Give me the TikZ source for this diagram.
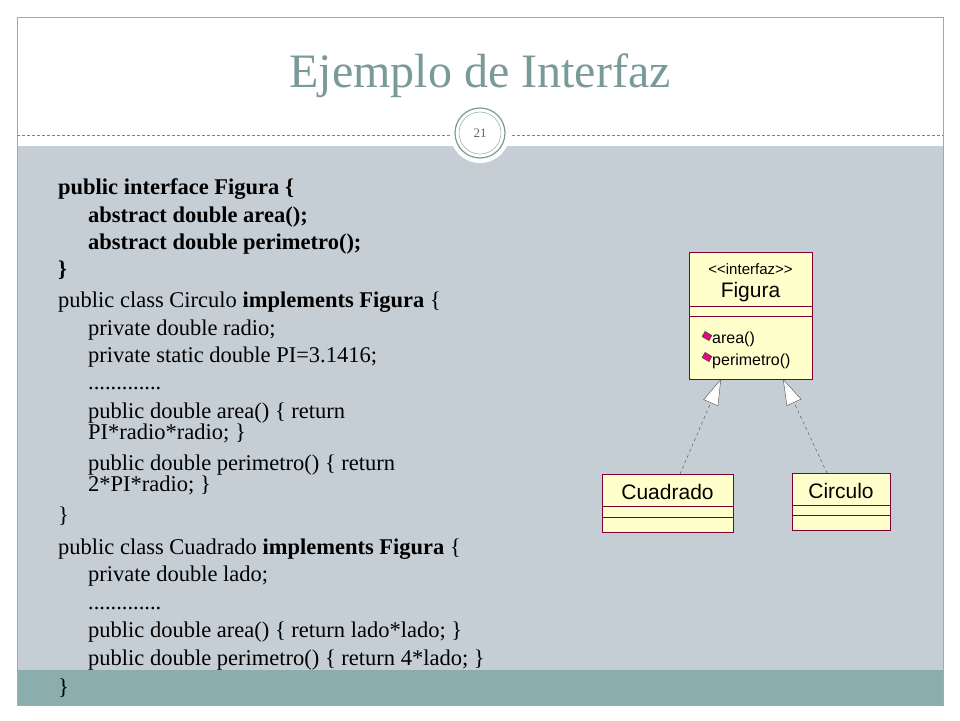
\documentclass[tikz,border=0pt]{standalone}
\usepackage{fontspec}
\setmainfont{Liberation Serif}
\setsansfont{Liberation Sans}
\usetikzlibrary{arrows.meta}
\definecolor{titlecol}{HTML}{7A9A9A}
\definecolor{bodybg}{HTML}{C5CED5}
\definecolor{footbg}{HTML}{8BADAD}
\definecolor{umlfill}{HTML}{FFFFCC}
\definecolor{umlline}{HTML}{800030}
\begin{document}
\begin{tikzpicture}[x=1pt,y=-1pt,
    code/.style={anchor=base west,inner sep=0pt,font=\fontsize{22.5}{24}\selectfont},
    codebf/.style={code,font=\fontsize{22.5}{24}\selectfont\bfseries},
    umlbox/.style={draw=umlline,fill=umlfill},
    realize/.style={draw=black!70,dashed,-{Triangle[open,fill=white,length=26pt,width=16pt]}}]
  \useasboundingbox (0,0) rectangle (960,720);
  % marco
  \fill[white] (0,0) rectangle (960,720);
  \fill[bodybg] (17,146) rectangle (943,670);
  \fill[footbg] (17,670) rectangle (943,705);
  \draw[titlecol!80] (17,17) rectangle (943,705);
  \draw[gray,densely dashed] (17,135) -- (943,135);
  \fill[white] (480,133) circle (30);
  \draw[titlecol,line width=1.2pt] (480,133) circle (25);
  \draw[titlecol] (480,133) circle (21);
  \node (num) at (480,133) {\fontsize{13}{14}\selectfont\color{gray!80!black}21};
  \node (title) at (480,76) {\fontsize{48}{52}\selectfont\color{titlecol}Ejemplo de Interfaz};
  % codigo
  \node[codebf] (l1) at (58,194) {public interface Figura \{};
  \node[codebf] (l2) at (88,222) {abstract double area();};
  \node[codebf] (l3) at (88,249) {abstract double perimetro();};
  \node[codebf] (l4) at (58,276) {\}};
  \node[code] (l5) at (58,307) {public class Circulo \textbf{implements Figura} \{};
  \node[code] (l6) at (88,335) {private double radio;};
  \node[code] (l7) at (88,362) {private static double PI=3.1416;};
  \node[code] (l8) at (88,389) {.............};
  \node[code] (l9) at (88,418) {public double area() \{ return};
  \node[code] (l10) at (88,439) {PI*radio*radio; \}};
  \node[code] (l11) at (88,470) {public double perimetro() \{ return};
  \node[code] (l12) at (88,491) {2*PI*radio; \}};
  \node[code] (l13) at (58,522) {\}};
  \node[code] (l14) at (58,554) {public class Cuadrado \textbf{implements Figura} \{};
  \node[code] (l15) at (88,581) {private double lado;};
  \node[code] (l16) at (88,609) {.............};
  \node[code] (l17) at (88,637) {public double area() \{ return lado*lado; \}};
  \node[code] (l18) at (88,665) {public double perimetro() \{ return 4*lado; \}};
  \node[code] (l19) at (58,694) {\}};
  % UML
  \draw[umlbox] (689,252) rectangle (812,379);
  \draw[umlline] (689,306) -- (812,306) (689,316) -- (812,316);
  \node (stereo) at (750.5,269) {\sffamily\fontsize{15}{16}\selectfont <\kern0pt<interfaz>\kern0pt>};
  \node (figura) at (750.5,292) {\sffamily\fontsize{21}{23}\selectfont Figura};
  \node[anchor=west,inner sep=0pt] (area) at (712,339) {\sffamily\fontsize{16}{18}\selectfont area()};
  \node[anchor=west,inner sep=0pt] (perim) at (712,361) {\sffamily\fontsize{16}{18}\selectfont perimetro()};
  \foreach \yy in {336,357}
    \fill[magenta,draw=green!40!black,rotate around={-30:(707,\yy)}] (703,\yy-3) rectangle (711,\yy+3);
  \coordinate (figL) at (721,379);
  \coordinate (figR) at (783,379);
  \draw[umlbox] (602,474) rectangle (733,532);
  \draw[umlline] (602,506) -- (733,506) (602,517) -- (733,517);
  \node (cuadrado) at (667.5,492) {\sffamily\fontsize{21}{23}\selectfont Cuadrado};
  \draw[umlbox] (792,473) rectangle (890,530);
  \draw[umlline] (792,505) -- (890,505) (792,515) -- (890,515);
  \node (circulo) at (841,491) {\sffamily\fontsize{21}{23}\selectfont Circulo};
  \coordinate (cuaT) at (680,474);
  \coordinate (cirT) at (827,473);
  \draw[realize] (cuaT) -- (figL);
  \draw[realize] (cirT) -- (figR);
\end{tikzpicture}
\end{document}
